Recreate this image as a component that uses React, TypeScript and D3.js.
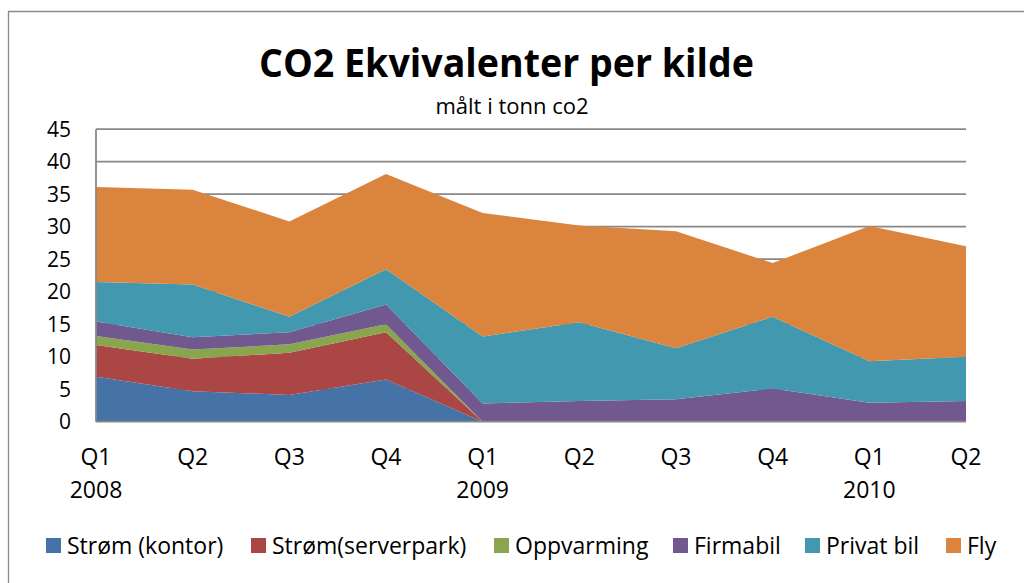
import React from "react";
import * as d3 from "d3";

const categories = ["Q1", "Q2", "Q3", "Q4", "Q1", "Q2", "Q3", "Q4", "Q1", "Q2"];
const years = ["2008", "", "", "", "2009", "", "", "", "2010", ""];
const seriesNames = ["Strøm (kontor)", "Strøm(serverpark)", "Oppvarming", "Firmabil", "Privat bil", "Fly"];
const stromKontor = [6.9, 4.7, 4.1, 6.5, 0, 0, 0, 0, 0, 0];
const stromServerpark = [4.9, 5.0, 6.5, 7.25, 0, 0, 0, 0, 0, 0];
const oppvarming = [1.4, 1.4, 1.3, 1.25, 0, 0, 0, 0, 0, 0];
const firmabil = [2.2, 1.9, 1.85, 3.05, 2.8, 3.2, 3.45, 5.1, 2.9, 3.2];
const privatBil = [6.1, 8.1, 2.4, 5.4, 10.3, 12.1, 7.85, 11.05, 6.4, 6.8];
const fly = [14.6, 14.6, 14.65, 14.65, 19.0, 14.9, 18.0, 8.25, 20.8, 17.0];
const yTicks = [0, 5, 10, 15, 20, 25, 30, 35, 40, 45];
const colors = ["#4572A7", "#AA4643", "#89A54E", "#71588F", "#4198AF", "#DB843D"];

const FONT = "'Open Sans', 'Noto Sans', sans-serif";

export default function App() {
  const W = 1024, H = 583;
  const left = 96, right = 966, top = 129.2, bottom = 421.7;
  const seriesValues = [stromKontor, stromServerpark, oppvarming, firmabil, privatBil, fly];
  const rows = categories.map((_, i) => {
    const r: Record<string, number> = { i };
    seriesNames.forEach((n, s) => (r[n] = seriesValues[s][i]));
    return r;
  });
  const stacked = d3.stack<Record<string, number>>().keys(seriesNames)(rows);
  const x = d3.scalePoint<number>().domain(categories.map((_, i) => i)).range([left, right]);
  const y = d3.scaleLinear().domain([0, 45]).range([bottom, top]);
  const area = d3
    .area<d3.SeriesPoint<Record<string, number>>>()
    .x((d) => x(d.data.i as number) as number)
    .y0((d) => y(d[0]))
    .y1((d) => y(d[1]));
  const legendX = [46, 251, 494, 673, 805, 946];

  return (
    <svg width={W} height={H} style={{ position: "absolute", left: 0, top: 0, background: "#fff" }} fontFamily={FONT}>
      <rect x={0} y={0} width={W} height={H} fill="#fff" />
      <path d={`M8.5,${H + 2}V11.5H${W + 2}`} fill="none" stroke="#8a8a8a" strokeWidth={1.3} />
      <text x={506.5} y={77} textAnchor="middle" fontSize={39} fontWeight={700} fill="#000" textLength={495} lengthAdjust="spacingAndGlyphs">
        CO2 Ekvivalenter per kilde
      </text>
      <text x={512} y={114} textAnchor="middle" fontSize={22} fill="#000">
        målt i tonn co2
      </text>
      {yTicks.map((t) => (
        <g key={t}>
          {t > 0 && <line x1={left} x2={right} y1={y(t)} y2={y(t)} stroke="#888" strokeWidth={1.8} />}
          <text x={71} y={y(t)} dy="0.36em" textAnchor="end" fontSize={21} fill="#000">
            {t}
          </text>
        </g>
      ))}
      {stacked.map((s, k) => (
        <path key={s.key} d={area(s) || ""} fill={colors[k]} />
      ))}
      <line x1={left} x2={left} y1={top} y2={bottom} stroke="#888" strokeWidth={1.8} />
      <line x1={left} x2={right} y1={bottom} y2={bottom} stroke="#888" strokeWidth={1.8} />
      {categories.map((c, i) => (
        <g key={i}>
          <text x={x(i)} y={465} textAnchor="middle" fontSize={23} fill="#000">
            {c}
          </text>
          {years[i] && (
            <text x={x(i)} y={498} textAnchor="middle" fontSize={23} fill="#000">
              {years[i]}
            </text>
          )}
        </g>
      ))}
      {seriesNames.map((n, k) => (
        <g key={n}>
          <rect x={legendX[k]} y={538} width={15} height={15} fill={colors[k]} />
          <text x={legendX[k] + 21} y={554} fontSize={23} fill="#000">
            {n}
          </text>
        </g>
      ))}
    </svg>
  );
}
